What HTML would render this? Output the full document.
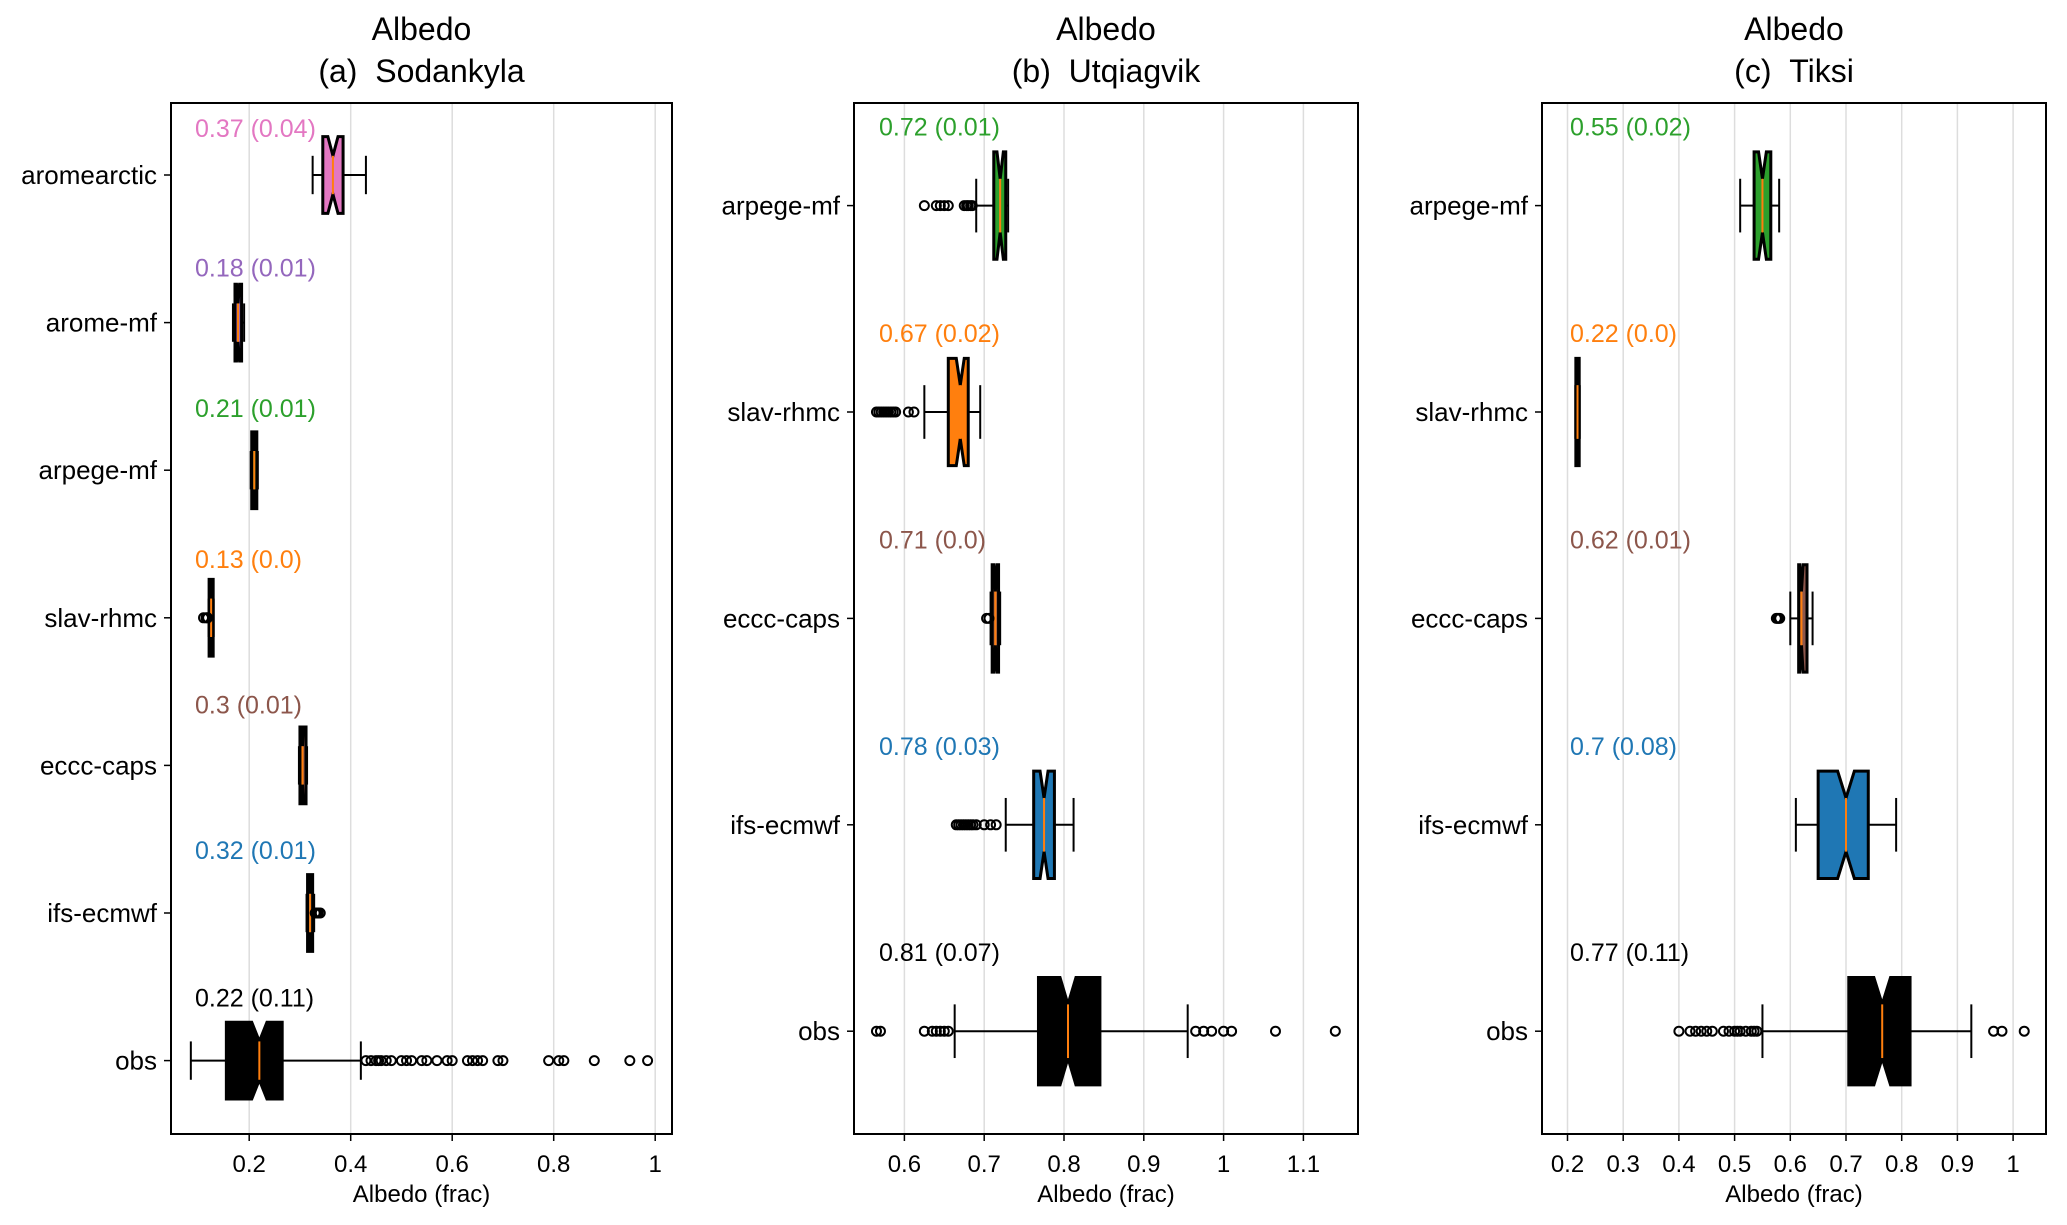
<!DOCTYPE html>
<html><head><meta charset="utf-8"><style>
html,body{margin:0;padding:0;background:#fff;}
svg{display:block;font-family:"Liberation Sans",Arial,sans-serif;}
</style></head><body>
<svg id="chart" width="2067" height="1225" viewBox="0 0 2067 1225" xmlns="http://www.w3.org/2000/svg"></svg>
<script>
// ---- Panel (a) Sodankyla ----
const catsA = ["aromearctic","arome-mf","arpege-mf","slav-rhmc","eccc-caps","ifs-ecmwf","obs"];
const medA = [0.365,0.178,0.21,0.125,0.305,0.32,0.22];
const q1A = [0.345,0.172,0.205,0.121,0.300,0.315,0.155];
const q3A = [0.385,0.185,0.215,0.129,0.312,0.325,0.265];
const wloA = [0.325,0.168,0.203,0.120,0.298,0.313,0.085];
const whiA = [0.43,0.19,0.217,0.130,0.314,0.328,0.42];
const nloA = [0.355,0.175,0.208,0.123,0.303,0.318,0.205];
const nhiA = [0.375,0.181,0.212,0.127,0.307,0.322,0.235];
const outA = [[],[],[],[0.11,0.115,0.118],[],[0.33,0.333,0.336,0.34],[0.43,0.44,0.45,0.455,0.46,0.47,0.48,0.5,0.51,0.52,0.54,0.55,0.57,0.59,0.6,0.63,0.64,0.65,0.66,0.69,0.7,0.79,0.81,0.82,0.88,0.95,0.985]];
const lblA = ["0.37 (0.04)","0.18 (0.01)","0.21 (0.01)","0.13 (0.0)","0.3 (0.01)","0.32 (0.01)","0.22 (0.11)"];
const colA = ["#e377c2","#9467bd","#2ca02c","#ff7f0e","#8c564b","#1f77b4","#000000"];
const ticksA = [0.2,0.4,0.6,0.8,1];
const tickLblA = ["0.2","0.4","0.6","0.8","1"];
// ---- Panel (b) Utqiagvik ----
const catsB = ["arpege-mf","slav-rhmc","eccc-caps","ifs-ecmwf","obs"];
const medB = [0.72,0.67,0.714,0.775,0.805];
const q1B = [0.712,0.655,0.710,0.762,0.768];
const q3B = [0.727,0.680,0.718,0.788,0.845];
const wloB = [0.69,0.625,0.708,0.727,0.663];
const whiB = [0.73,0.695,0.720,0.812,0.955];
const nloB = [0.716,0.665,0.712,0.77,0.795];
const nhiB = [0.724,0.675,0.716,0.78,0.815];
const outB = [[0.625,0.64,0.645,0.65,0.655,0.675,0.678,0.68,0.683,0.685],[0.565,0.568,0.571,0.574,0.577,0.58,0.583,0.586,0.589,0.605,0.612],[0.703,0.706],[0.665,0.668,0.671,0.674,0.677,0.68,0.683,0.686,0.69,0.70,0.708,0.715],[0.565,0.57,0.625,0.635,0.64,0.645,0.65,0.655,0.965,0.975,0.985,1.0,1.01,1.065,1.14]];
const lblB = ["0.72 (0.01)","0.67 (0.02)","0.71 (0.0)","0.78 (0.03)","0.81 (0.07)"];
const colB = ["#2ca02c","#ff7f0e","#8c564b","#1f77b4","#000000"];
const ticksB = [0.6,0.7,0.8,0.9,1,1.1];
const tickLblB = ["0.6","0.7","0.8","0.9","1","1.1"];
// ---- Panel (c) Tiksi ----
const catsC = ["arpege-mf","slav-rhmc","eccc-caps","ifs-ecmwf","obs"];
const medC = [0.55,0.218,0.62,0.70,0.765];
const q1C = [0.535,0.215,0.615,0.65,0.705];
const q3C = [0.565,0.221,0.63,0.74,0.815];
const wloC = [0.51,0.214,0.60,0.61,0.55];
const whiC = [0.58,0.222,0.64,0.79,0.925];
const nloC = [0.543,0.217,0.617,0.685,0.75];
const nhiC = [0.557,0.219,0.623,0.715,0.78];
const outC = [[],[],[0.575,0.578,0.581],[],[0.4,0.42,0.43,0.44,0.45,0.46,0.48,0.49,0.5,0.505,0.51,0.52,0.53,0.535,0.54,0.965,0.98,1.02]];
const lblC = ["0.55 (0.02)","0.22 (0.0)","0.62 (0.01)","0.7 (0.08)","0.77 (0.11)"];
const colC = ["#2ca02c","#ff7f0e","#8c564b","#1f77b4","#000000"];
const ticksC = [0.2,0.3,0.4,0.5,0.6,0.7,0.8,0.9,1];
const tickLblC = ["0.2","0.3","0.4","0.5","0.6","0.7","0.8","0.9","1"];

const NS="http://www.w3.org/2000/svg";
const svg=document.getElementById('chart');
function mk(tag,attrs,parent,text){const e=document.createElementNS(NS,tag);for(const k in attrs)e.setAttribute(k,attrs[k]);if(text!==undefined)e.textContent=text;(parent||svg).appendChild(e);return e;}

const panels=[
 {key:"a",title:"(a)\u00a0\u00a0Sodankyla",fx0:171,fx1:672,ref:0.2,refPx:249.2,pxPer:507.5,cy0:175,step:147.6,lo:[38,46,53,50,52,54,54],cats:catsA,med:medA,q1:q1A,q3:q3A,wlo:wloA,whi:whiA,nlo:nloA,nhi:nhiA,out:outA,lbl:lblA,col:colA,ticks:ticksA,tl:tickLblA,lx:195},
 {key:"b",title:"(b)\u00a0\u00a0Utqiagvik",fx0:854,fx1:1358,ref:0.6,refPx:904.4,pxPer:798,cy0:205.6,step:206.4,lo:[70,70,70,70,70],cats:catsB,med:medB,q1:q1B,q3:q3B,wlo:wloB,whi:whiB,nlo:nloB,nhi:nhiB,out:outB,lbl:lblB,col:colB,ticks:ticksB,tl:tickLblB,lx:879},
 {key:"c",title:"(c)\u00a0\u00a0Tiksi",fx0:1542,fx1:2046,ref:0.2,refPx:1567.5,pxPer:557,cy0:205.6,step:206.4,lo:[70,70,70,70,70],cats:catsC,med:medC,q1:q1C,q3:q3C,wlo:wloC,whi:whiC,nlo:nloC,nhi:nhiC,out:outC,lbl:lblC,col:colC,ticks:ticksC,tl:tickLblC,lx:1570}
];
const FY0=103,FY1=1134;
panels.forEach(p=>{
 const g=mk('g',{});
 
 
 const X=v=>p.refPx+(v-p.ref)*p.pxPer;
 const cx=(p.fx0+p.fx1)/2;
 const t1=mk('text',{x:cx,y:40,'text-anchor':'middle','font-size':32},g,"Albedo");
 
 
 const t2=mk('text',{x:cx,y:82,'text-anchor':'middle','font-size':32},g,p.title);
 
 
 p.ticks.forEach((t,i)=>{
  const x=X(t);
  const gl=mk('line',{x1:x,x2:x,y1:FY0,y2:FY1,stroke:'#dddddd','stroke-width':1.5},g);
  
  
  mk('line',{x1:x,x2:x,y1:FY1,y2:FY1+7,stroke:'#000','stroke-width':1.5},g);
  const tl=mk('text',{x:x,y:1172,'text-anchor':'middle','font-size':24},g,p.tl[i]);
  
  
 });
 const xl=mk('text',{x:cx,y:1202,'text-anchor':'middle','font-size':24},g,"Albedo (frac)");
 
 
 const fr=mk('rect',{x:p.fx0,y:FY0,width:p.fx1-p.fx0,height:FY1-FY0,fill:'none',stroke:'#000','stroke-width':2},g);
 
 
 p.cats.forEach((c,i)=>{
  const cy=p.cy0+i*p.step;
  const h=p.step*0.26;
  mk('line',{x1:p.fx0-7,x2:p.fx0,y1:cy,y2:cy,stroke:'#000','stroke-width':1.5},g);
  const yl=mk('text',{x:p.fx0-14,y:cy+9,'text-anchor':'end','font-size':26},g,c);
  
  
  const lb=mk('text',{x:p.lx,y:cy-p.lo[i],'font-size':25,fill:p.col[i]},g,p.lbl[i]);
  
  
  const ch=h*0.5;
  mk('line',{x1:X(p.wlo[i]),x2:X(p.q1[i]),y1:cy,y2:cy,stroke:'#000','stroke-width':2},g);
  mk('line',{x1:X(p.q3[i]),x2:X(p.whi[i]),y1:cy,y2:cy,stroke:'#000','stroke-width':2},g);
  mk('line',{x1:X(p.wlo[i]),x2:X(p.wlo[i]),y1:cy-ch,y2:cy+ch,stroke:'#000','stroke-width':2},g);
  mk('line',{x1:X(p.whi[i]),x2:X(p.whi[i]),y1:cy-ch,y2:cy+ch,stroke:'#000','stroke-width':2},g);
  const a=X(p.q1[i]),b=X(p.q3[i]),nl=X(p.nlo[i]),nh=X(p.nhi[i]),m=X(p.med[i]);
  const pts=[[a,cy-h],[nl,cy-h],[m,cy-h/2],[nh,cy-h],[b,cy-h],[b,cy+h],[nh,cy+h],[m,cy+h/2],[nl,cy+h],[a,cy+h]].map(q=>q.join(',')).join(' ');
  const box=mk('polygon',{points:pts,fill:p.col[i],stroke:'#000','stroke-width':3,'stroke-linejoin':'miter'},g);
  
  
  mk('line',{x1:m,x2:m,y1:cy-h/2,y2:cy+h/2,stroke:'#ff7f0e','stroke-width':2},g);
  p.out[i].forEach(v=>{
   const o=mk('circle',{cx:X(v),cy:cy,r:4.5,fill:'none',stroke:'#000','stroke-width':2},g);
   
   
  });
 });
});
</script>
</body></html>
